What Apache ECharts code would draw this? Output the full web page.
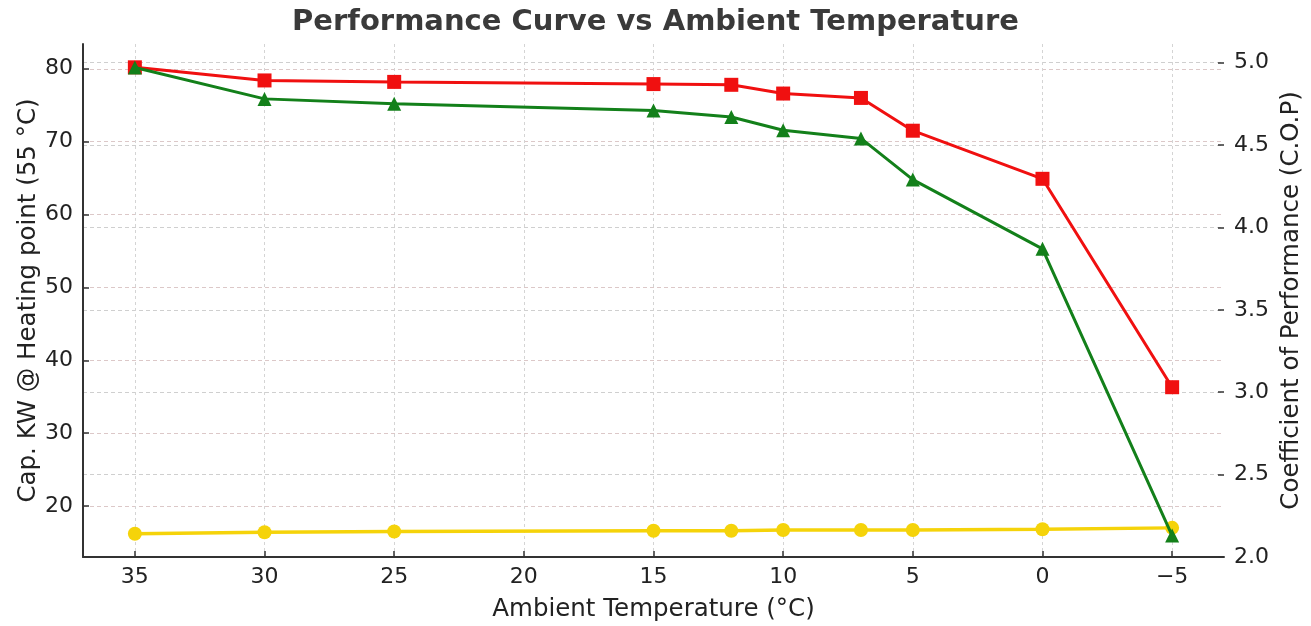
<!DOCTYPE html>
<html>
<head>
<meta charset="utf-8">
<script src="https://cdn.jsdelivr.net/npm/echarts@6/dist/echarts.min.js"></script>
<style>html,body{margin:0;padding:0;background:#fff}#c{width:1311px;height:626px}</style>
</head>
<body>
<div id="c"></div>
<script>
const temps = [35, 30, 25, 15, 12, 10, 7, 5, 0, -5];
const capacity = [80.2, 78.4, 78.2, 77.9, 77.8, 76.6, 76.0, 71.5, 64.9, 36.3];
const cop = [4.97, 4.78, 4.75, 4.71, 4.67, 4.59, 4.54, 4.29, 3.87, 2.13];
const power = [16.2, 16.4, 16.5, 16.6, 16.6, 16.7, 16.7, 16.7, 16.8, 17.0];
const xTicks = [35, 30, 25, 20, 15, 10, 5, 0, -5];
const leftTicks = [20, 30, 40, 50, 60, 70, 80];
const rightTicks = [2.0, 2.5, 3.0, 3.5, 4.0, 4.5, 5.0];

const pairs = (ys) => temps.map((t, i) => [t, ys[i]]);
const font = 'DejaVu Sans';
const tickLabel = {fontFamily: font, fontSize: 22, color: '#222'};
const nameStyle = {fontFamily: font, fontSize: 24.5, color: '#222'};

const chart = echarts.init(document.getElementById('c'));
chart.setOption({
  animation: false,
  title: {
    text: 'Performance Curve vs Ambient Temperature',
    left: 'center', top: 3,
    textStyle: {fontFamily: font, fontSize: 29, fontWeight: 'bold', color: '#3a3a3a'}
  },
  grid: {left: 83, right: 87, top: 44, bottom: 69, outerBoundsMode: 'none', containLabel: false},
  xAxis: {
    type: 'value', inverse: true, min: -7, max: 37,
    name: 'Ambient Temperature (°C)', nameLocation: 'middle', nameGap: 40,
    nameTextStyle: nameStyle,
    axisLine: {show: true, onZero: false, lineStyle: {color: '#333', width: 2}},
    axisTick: {show: true, inside: true, length: 6, customValues: xTicks, lineStyle: {color: '#333', width: 1.5}},
    axisLabel: Object.assign({customValues: xTicks, margin: 9, formatter: v => (v < 0 ? '\u2212' + (-v) : '' + v)}, tickLabel),
    splitLine: {show: true, lineStyle: {color: '#d4d4d4', type: [3, 3], width: 1}}
  },
  yAxis: [
    {
      type: 'value', min: 13, max: 83.4, position: 'left',
      name: 'Cap. KW @ Heating point (55 °C)', nameLocation: 'middle', nameGap: 42,
      nameMoveOverlap: false,
      nameTextStyle: nameStyle,
      axisLine: {show: true, onZero: false, lineStyle: {color: '#333', width: 2}},
      axisTick: {show: true, inside: true, length: 6, customValues: leftTicks, lineStyle: {color: '#333', width: 1.5}},
      axisLabel: Object.assign({customValues: leftTicks, margin: 10}, tickLabel),
      splitLine: {show: true, lineStyle: {color: '#dcc8c8', type: [4, 3], width: 1}}
    },
    {
      type: 'value', min: 2.0, max: 5.113, position: 'right',
      name: 'Coefficient of Performance (C.O.P)', nameLocation: 'middle', nameGap: 55,
      nameMoveOverlap: false,
      nameTextStyle: nameStyle,
      axisLine: {show: false, onZero: false},
      axisTick: {show: true, inside: true, length: 6, customValues: rightTicks, lineStyle: {color: '#333', width: 1.5}},
      axisLabel: Object.assign({customValues: rightTicks, margin: 10, formatter: v => v.toFixed(1)}, tickLabel),
      splitLine: {show: true, lineStyle: {color: '#cfcfcf', type: [4, 3], width: 1}}
    }
  ],
  series: [
    {
      name: 'Capacity', type: 'line', yAxisIndex: 0, data: pairs(capacity),
      symbol: 'rect', symbolSize: 14,
      lineStyle: {color: '#f01010', width: 3}, itemStyle: {color: '#f01010'}, z: 3
    },
    {
      name: 'COP', type: 'line', yAxisIndex: 1, data: pairs(cop),
      symbol: 'triangle', symbolSize: 14,
      lineStyle: {color: '#13801a', width: 3}, itemStyle: {color: '#13801a'}, z: 4
    },
    {
      name: 'Power', type: 'line', yAxisIndex: 0, data: pairs(power),
      symbol: 'circle', symbolSize: 14,
      lineStyle: {color: '#f5d30a', width: 3.4}, itemStyle: {color: '#f5d30a'}, z: 2
    }
  ]
});
</script>
</body>
</html>
